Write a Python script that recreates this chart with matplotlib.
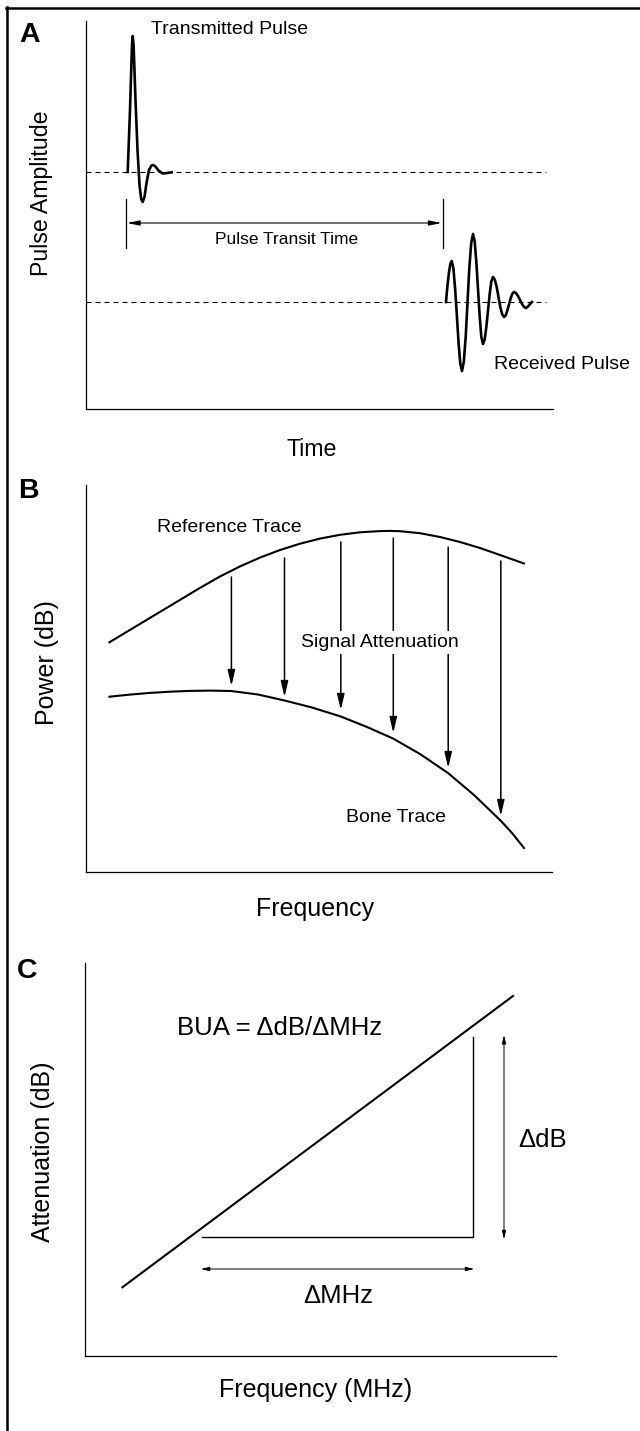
import matplotlib
matplotlib.use("Agg")
import matplotlib.pyplot as plt
from matplotlib.lines import Line2D

plt.rcParams['font.family'] = ['Liberation Sans', 'DejaVu Sans']

W, H = 640, 1431

# ---------------- Panel A data (time, amplitude; arbitrary units) ----------------
tx_time = [4.17, 4.40, 4.60, 4.67, 4.76, 4.95, 5.15, 5.35, 5.52, 5.67, 5.85, 6.05,
           6.30, 6.55, 6.73, 6.95, 7.25, 7.67, 8.10, 8.57]
tx_amp = [23.7, 29.9, 36.4, 37.3, 36.4, 30.9, 25.9, 22.4, 21.0, 20.7, 21.2, 22.6,
          23.9, 24.35, 24.4, 24.25, 23.85, 23.55, 23.6, 23.67]
rx_time = [36.0, 36.14, 36.29, 36.43, 36.57,
           36.74, 36.91, 37.09, 37.26, 37.43, 37.6,
           37.78, 37.97, 38.15, 38.33, 38.52, 38.7,
           38.87, 39.03, 39.2, 39.37, 39.53, 39.7,
           39.87, 40.03, 40.2, 40.37, 40.53, 40.7,
           40.88, 41.07, 41.25, 41.43, 41.62, 41.8,
           41.97, 42.13, 42.3, 42.47, 42.63, 42.8,
           43.0, 43.2, 43.4, 43.6, 43.8, 44.0,
           44.2, 44.4, 44.6]
rx_amp = [10.7, 12.27, 13.6, 14.49, 14.8,
          14.06, 12.05, 9.3, 6.55, 4.54, 3.8,
          4.72, 7.23, 10.65, 14.08, 16.58, 17.5,
          16.76, 14.75, 12.0, 9.25, 7.24, 6.5,
          6.95, 8.18, 9.85, 11.53, 12.75, 13.2,
          12.93, 12.2, 11.2, 10.2, 9.47, 9.2,
          9.37, 9.83, 10.45, 11.08, 11.53, 11.7,
          11.59, 11.3, 10.9, 10.5, 10.21, 10.1,
          10.25, 10.5, 10.7]
baseline_tx = 23.7
baseline_rx = 10.7
baseline_end = 46.0
transit_start = 3.95
transit_end = 35.7
transit_marker = [16.1, 21.0]
transit_arrow_y = 18.6

# ---------------- Panel B data (frequency, power) ----------------
ref_freq = [2.34, 4.4, 6.4, 8.4, 10.4, 11.4, 13.4, 15.4, 17.4, 19.4, 21.4, 23.4,
            25.4, 27.4, 29.4, 30.4, 31.4, 33.4, 35.4, 37.4, 39.4, 41.4, 43.8]
ref_power = [22.97, 24.21, 25.41, 26.61, 27.81, 28.41, 29.55, 30.56, 31.44, 32.2,
             32.83, 33.34, 33.72, 33.97, 34.09, 34.11, 34.08, 33.88, 33.5, 33.0,
             32.4, 31.7, 30.85]
bone_freq = [2.34, 4.4, 6.4, 8.4, 10.4, 12.4, 14.5, 17.2, 19.85, 22.6, 25.48, 28.1,
             30.7, 33.4, 36.2, 38.8, 41.5, 42.6, 43.8]
bone_power = [17.53, 17.74, 17.91, 18.03, 18.11, 18.14, 18.1, 17.75, 17.15, 16.45,
              15.55, 14.5, 13.35, 11.8, 9.9, 7.7, 5.1, 3.9, 2.4]
atten_freq = [14.54, 19.85, 25.48, 30.73, 36.22, 41.48]
atten_from = [29.5, 31.4, 33.0, 33.4, 32.5, 31.1]
atten_to = [18.6, 17.5, 16.2, 13.9, 10.4, 5.6]

# ---------------- Panel C data (frequency MHz, attenuation dB) ----------------
bua_freq = [3.74, 42.8]
bua_atten = [6.87, 36.0]
tri_freq = [11.7, 38.77, 38.77]
tri_atten = [11.87, 11.87, 31.93]
ddb_freq = 41.9
ddb_range = [11.67, 32.1]
dmhz_atten = 8.7
dmhz_range = [11.58, 38.93]

fig = plt.figure(figsize=(W / 100, H / 100), dpi=100)


def add_panel(l, t, r, b):
    ax = fig.add_axes([l / W, 1 - b / H, (r - l) / W, (b - t) / H])
    ax.set_xlim(0, (r - l) / 10)
    ax.set_ylim(0, (b - t) / 10)
    for s in ['top', 'right']:
        ax.spines[s].set_visible(False)
    for s in ['left', 'bottom']:
        ax.spines[s].set_linewidth(0.9)
    ax.set_xticks([])
    ax.set_yticks([])
    ax.patch.set_alpha(0)
    return ax


def label_pos(ax, box, px, py):
    l, t, r, b = box
    return (px - l) / (r - l), (b - py) / (b - t)


# figure frame (top & left only)
fig.add_artist(Line2D([6 / W, 1], [1 - 7.8 / H, 1 - 7.8 / H], transform=fig.transFigure,
                      color='k', lw=1.8))
fig.add_artist(Line2D([7 / W, 7 / W], [1 - 6.5 / H, 0], transform=fig.transFigure,
                      color='k', lw=1.8))

# ---------------- Panel A ----------------
boxA = (86, 21, 553, 409)
axA = add_panel(*boxA)
dash = (0, (4.5, 3.6))
axA.plot([0, baseline_end], [baseline_tx, baseline_tx], color='k', lw=0.8, ls=dash)
axA.plot([0, baseline_end], [baseline_rx, baseline_rx], color='k', lw=0.8, ls=dash)
axA.plot(tx_time, tx_amp, color='k', lw=1.9, solid_joinstyle='round', zorder=3)
axA.plot(rx_time, rx_amp, color='k', lw=1.9, solid_joinstyle='round', zorder=3)
axA.plot([transit_start, transit_start], transit_marker, color='k', lw=0.9)
axA.plot([transit_end, transit_end], transit_marker, color='k', lw=0.9)
axA.annotate('', xy=(transit_end, transit_arrow_y), xytext=(transit_start, transit_arrow_y),
             arrowprops=dict(arrowstyle='<|-|>,head_length=0.75,head_width=0.15',
                             lw=0.8, color='k', shrinkA=1, shrinkB=1, mutation_scale=10))
axA.text(20.1, 16.5, 'Pulse Transit Time', fontsize=12.5, ha='center', va='baseline')
axA.text(14.4, 37.5, 'Transmitted Pulse', fontsize=14, ha='center', va='baseline')
axA.text(47.65, 4.0, 'Received Pulse', fontsize=14, ha='center', va='baseline')
axA.set_ylabel('Pulse Amplitude', fontsize=16.7)
axA.yaxis.set_label_coords(*label_pos(axA, boxA, 53.4, 193.5))
axA.set_xlabel('Time', fontsize=16.7)
axA.xaxis.set_label_coords(*label_pos(axA, boxA, 312, 438.4))

# ---------------- Panel B ----------------
boxB = (86, 485, 552, 872)
axB = add_panel(*boxB)
axB.plot(ref_freq, ref_power, color='k', lw=1.5, solid_joinstyle='round')
axB.plot(bone_freq, bone_power, color='k', lw=1.5, solid_joinstyle='round')
for f, y0, y1 in zip(atten_freq, atten_from, atten_to):
    axB.annotate('', xy=(f, y1), xytext=(f, y0),
                 arrowprops=dict(arrowstyle='-|>,head_length=0.94,head_width=0.22',
                                 lw=1.1, color='k', shrinkA=0, shrinkB=0,
                                 mutation_scale=10), zorder=3)
axB.text(29.36, 22.5, 'Signal Attenuation', fontsize=14, ha='center', va='baseline',
         zorder=5, bbox=dict(facecolor='white', edgecolor='none', pad=2))
axB.text(14.3, 34.0, 'Reference Trace', fontsize=14, ha='center', va='baseline')
axB.text(30.95, 5.0, 'Bone Trace', fontsize=14, ha='center', va='baseline')
axB.set_ylabel('Power (dB)', fontsize=18)
axB.yaxis.set_label_coords(*label_pos(axB, boxB, 59, 662.5))
axB.set_xlabel('Frequency', fontsize=18)
axB.xaxis.set_label_coords(*label_pos(axB, boxB, 315, 897))

# ---------------- Panel C ----------------
boxC = (85, 963, 556, 1356)
axC = add_panel(*boxC)
axC.plot(bua_freq, bua_atten, color='k', lw=1.5)
axC.plot(tri_freq, tri_atten, color='k', lw=1.0)
axC.annotate('', xy=(ddb_freq, ddb_range[1]), xytext=(ddb_freq, ddb_range[0]),
             arrowprops=dict(arrowstyle='<|-|>,head_length=0.5,head_width=0.12',
                             lw=0.7, color='k', shrinkA=0, shrinkB=0, mutation_scale=10))
axC.annotate('', xy=(dmhz_range[1], dmhz_atten), xytext=(dmhz_range[0], dmhz_atten),
             arrowprops=dict(arrowstyle='<|-|>,head_length=0.5,head_width=0.12',
                             lw=0.7, color='k', shrinkA=0, shrinkB=0, mutation_scale=10))
axC.text(19.5, 32.1, 'BUA = \u0394dB/\u0394MHz', fontsize=18.5, ha='center', va='baseline')
axC.text(45.79, 20.93, '\u0394dB', fontsize=18.5, ha='center', va='baseline')
axC.text(25.3, 5.3, '\u0394MHz', fontsize=18.5, ha='center', va='baseline')
axC.set_ylabel('Attenuation (dB)', fontsize=18)
axC.yaxis.set_label_coords(*label_pos(axC, boxC, 55, 1151.5))
axC.set_xlabel('Frequency (MHz)', fontsize=18)
axC.xaxis.set_label_coords(*label_pos(axC, boxC, 316, 1378))

# panel letters
for letter, px, py in [('A', 19, 42), ('B', 18, 498), ('C', 17, 978)]:
    fig.text(px / W, 1 - py / H, letter, fontsize=20.5, fontweight='bold',
             ha='left', va='baseline')

fig.savefig('out.png', dpi=100)
